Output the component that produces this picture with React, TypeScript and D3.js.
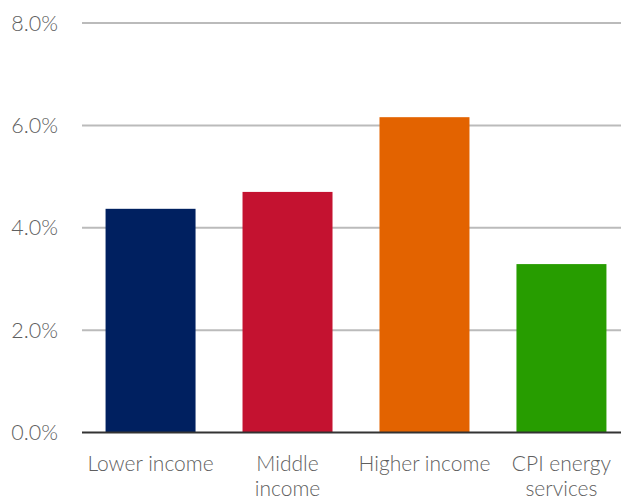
import React from "react";
import * as d3 from "d3";

const categories: string[][] = [
  ["Lower income"],
  ["Middle", "income"],
  ["Higher income"],
  ["CPI energy", "services"],
];
const values: number[] = [4.37, 4.7, 6.16, 3.29];
const colors: string[] = ["#002060", "#c41230", "#e36300", "#279d00"];
const yTicks: number[] = [0, 2, 4, 6, 8];

const W = 621;
const H = 501;

export default function App() {
  const x = d3
    .scaleBand<number>()
    .domain(values.map((_, i) => i))
    .range([82, 630])
    .paddingInner(0.343)
    .paddingOuter(0.172);
  const y = d3.scaleLinear().domain([0, 8]).range([432.5, 23]);
  const font = "Lato, 'Open Sans', sans-serif";
  return (
    <svg
      width={W}
      height={H}
      style={{ position: "absolute", left: 0, top: 0, background: "#fff" }}
    >
      {yTicks.map((t) => (
        <g key={t}>
          {t !== 0 && (
            <line x1={82} x2={W} y1={y(t)} y2={y(t)} stroke="#bbbbbb" strokeWidth={2} />
          )}
          <text
            x={58}
            y={y(t)}
            dy="0.36em"
            textAnchor="end"
            fontFamily={font}
            fontWeight={300}
            fontSize={21.5}
            fill="#5f5f5f"
          >
            {t.toFixed(1)}%
          </text>
        </g>
      ))}
      {values.map((v, i) => (
        <rect
          key={i}
          x={x(i)}
          y={y(v)}
          width={x.bandwidth()}
          height={y(0) - y(v)}
          fill={colors[i]}
        />
      ))}
      <line x1={82} x2={W} y1={y(0)} y2={y(0)} stroke="#333" strokeWidth={2} />
      {categories.map((lines, i) => (
        <text
          key={i}
          x={(x(i) as number) + x.bandwidth() / 2}
          y={471}
          textAnchor="middle"
          fontFamily={font}
          fontWeight={300}
          fontSize={21}
          fill="#5f5f5f"
        >
          {lines.map((l, j) => (
            <tspan key={j} x={(x(i) as number) + x.bandwidth() / 2} dy={j === 0 ? 0 : 25}>
              {l}
            </tspan>
          ))}
        </text>
      ))}
    </svg>
  );
}
